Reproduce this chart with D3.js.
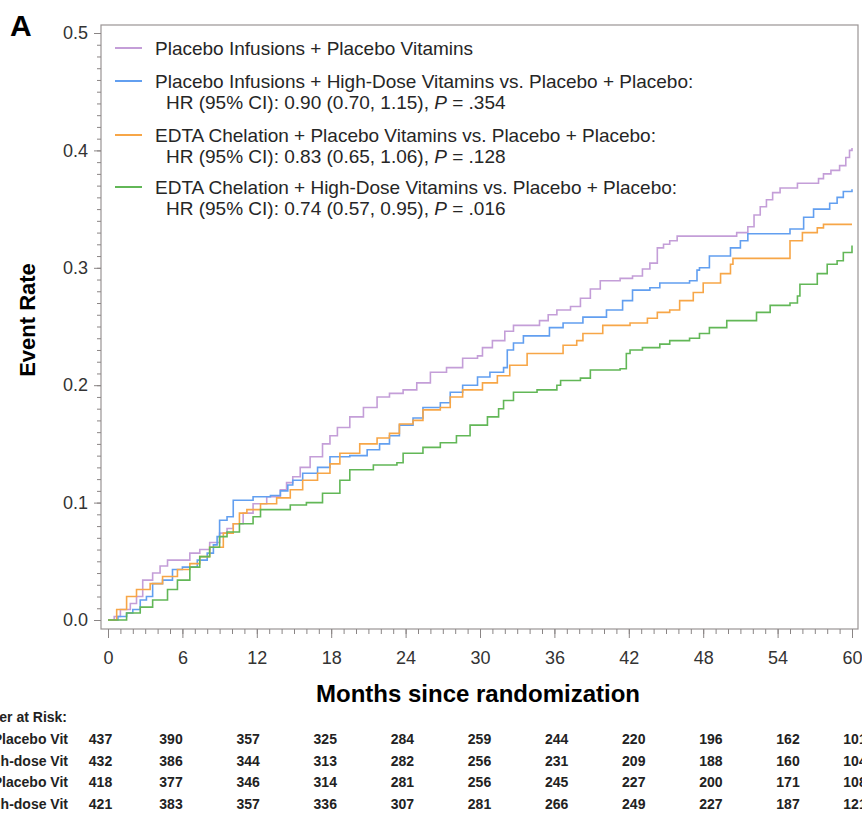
<!DOCTYPE html>
<html>
<head>
<meta charset="utf-8">
<script src="https://cdn.jsdelivr.net/npm/d3@7"></script>
<style>
  body { margin: 0; background: #fff; }
  svg { display: block; font-family: "Liberation Sans", Arial, sans-serif; }
  .tick text { fill: #333; }
</style>
</head>
<body>
<svg id="chart" width="862" height="816"></svg>
<script>
// ---- data ----
const xTicks = [0, 6, 12, 18, 24, 30, 36, 42, 48, 54, 60];
const yTicks = [0, 0.1, 0.2, 0.3, 0.4, 0.5];

const groupNames = [
    "Placebo Infusions + Placebo Vitamins",
    "Placebo Infusions + High-Dose Vitamins vs. Placebo + Placebo:",
    "EDTA Chelation + Placebo Vitamins vs. Placebo + Placebo:",
    "EDTA Chelation + High-Dose Vitamins vs. Placebo + Placebo:"
];
const hrText = [null, "HR (95% CI): 0.90 (0.70, 1.15), ", "HR (95% CI): 0.83 (0.65, 1.06), ", "HR (95% CI): 0.74 (0.57, 0.95), "];
const pValues = [null, ".354", ".128", ".016"];

// [month, event rate]
const placeboPlacebo = [[0,0],[0.5,0.003],[1,0.009],[1.8,0.014],[2.3,0.02],[2.8,0.034],[3.6,0.04],[4.2,0.046],[4.8,0.051],[6.6,0.057],[7.4,0.06],[8.2,0.066],[9,0.074],[9.6,0.078],[10.1,0.082],[10.9,0.091],[11.7,0.099],[12.8,0.105],[13.9,0.111],[14.4,0.117],[14.9,0.122],[15.5,0.13],[16.3,0.139],[17.3,0.15],[17.9,0.157],[18.5,0.164],[19.5,0.173],[20.6,0.181],[21.7,0.19],[22.7,0.193],[23.8,0.196],[24.9,0.202],[26,0.211],[27.3,0.215],[28.6,0.223],[29.8,0.225],[30.2,0.232],[31,0.238],[32,0.246],[32.7,0.251],[34.8,0.255],[35.5,0.26],[36.2,0.264],[37.3,0.267],[38.1,0.274],[38.9,0.282],[39.7,0.289],[41.3,0.291],[42.3,0.293],[43.1,0.299],[43.7,0.304],[44.3,0.317],[44.8,0.32],[45.3,0.323],[45.9,0.327],[50.7,0.33],[51.6,0.335],[52.1,0.345],[52.6,0.352],[53.1,0.358],[53.6,0.364],[54.2,0.368],[55.6,0.372],[57.3,0.376],[57.7,0.38],[58.3,0.383],[59,0.387],[59.5,0.394],[59.8,0.4],[60,0.402]];
const placeboHighDose = [[0,0],[0.8,0.003],[1.5,0.006],[2,0.009],[2.6,0.017],[3.1,0.02],[3.6,0.031],[4.4,0.034],[5.2,0.043],[6,0.045],[7.2,0.051],[8,0.057],[8.5,0.064],[8.8,0.071],[9,0.085],[9.6,0.088],[10.1,0.102],[11.7,0.105],[13.1,0.106],[13.9,0.11],[14.5,0.115],[14.9,0.119],[15.7,0.125],[16.9,0.13],[17.9,0.139],[19.5,0.14],[20.9,0.145],[21.9,0.15],[22.7,0.157],[23.5,0.166],[24.6,0.172],[25.4,0.181],[26.8,0.185],[27.6,0.194],[28.6,0.2],[29.8,0.207],[30.8,0.211],[31.9,0.215],[32.2,0.23],[32.7,0.236],[33.5,0.242],[35.6,0.249],[36.7,0.253],[38.3,0.258],[40.2,0.264],[41.5,0.272],[42.3,0.281],[43.7,0.283],[44.5,0.287],[46.9,0.289],[47.5,0.298],[47.7,0.3],[48.5,0.31],[50.2,0.317],[51,0.323],[51.6,0.329],[55,0.333],[56.1,0.343],[56.9,0.35],[58.2,0.355],[58.8,0.36],[59.3,0.365],[60,0.367]];
const edtaPlacebo = [[0,0],[0.7,0.009],[1.5,0.02],[2.3,0.026],[3.4,0.031],[4.4,0.037],[5.6,0.043],[6.6,0.048],[7.4,0.054],[8.2,0.062],[9.3,0.074],[10.1,0.082],[10.6,0.091],[11.2,0.094],[12.3,0.099],[13.6,0.104],[14.7,0.111],[15.7,0.119],[16.9,0.125],[17.9,0.133],[18.7,0.142],[20.3,0.15],[21.7,0.155],[22.7,0.159],[23.5,0.167],[24.6,0.17],[25.4,0.179],[26.8,0.181],[27.6,0.19],[28.6,0.196],[30.2,0.202],[31.4,0.208],[32.4,0.217],[33.8,0.227],[36.7,0.234],[37.8,0.238],[38.3,0.244],[39.9,0.251],[42.1,0.253],[43.5,0.257],[44.3,0.262],[45.3,0.264],[46.1,0.272],[47.2,0.279],[48,0.287],[49.4,0.295],[50.2,0.303],[50.4,0.308],[55,0.323],[56,0.33],[57.2,0.334],[57.7,0.337],[60,0.337]];
const edtaHighDose = [[0,0],[1.5,0.006],[2.6,0.011],[3.6,0.017],[4.8,0.026],[5.6,0.034],[6.6,0.045],[7.4,0.054],[8.2,0.062],[9,0.071],[9.6,0.075],[10.6,0.082],[11.7,0.088],[12.3,0.094],[14.7,0.098],[16,0.1],[17.3,0.108],[18.7,0.119],[19.5,0.128],[21.4,0.132],[23.3,0.134],[23.8,0.142],[25.4,0.147],[26.8,0.151],[28.1,0.157],[29.2,0.166],[30.6,0.173],[31.5,0.18],[31.9,0.187],[32.7,0.194],[34.6,0.196],[36.2,0.2],[36.5,0.204],[38.1,0.206],[38.9,0.213],[41.3,0.214],[41.8,0.227],[42.1,0.23],[43.1,0.232],[44.5,0.235],[45.3,0.238],[46.9,0.24],[47.7,0.244],[48.5,0.249],[49.9,0.255],[52.3,0.262],[53.4,0.268],[55,0.27],[55.6,0.276],[55.8,0.286],[57.2,0.295],[58,0.303],[58.8,0.306],[59.3,0.313],[60,0.319]];

const riskLabels = ["Placebo Inf + Placebo Vit", "Placebo Inf + High-dose Vit", "EDTA + Placebo Vit", "EDTA + High-dose Vit"];
const riskPlaceboPlacebo = [437, 390, 357, 325, 284, 259, 244, 220, 196, 162, 101];
const riskPlaceboHighDose = [432, 386, 344, 313, 282, 256, 231, 209, 188, 160, 104];
const riskEdtaPlacebo = [418, 377, 346, 314, 281, 256, 245, 227, 200, 171, 108];
const riskEdtaHighDose = [421, 383, 357, 336, 307, 281, 266, 249, 227, 187, 121];

const colors = ["#c49ed8", "#629ff0", "#f7a647", "#62b757"];

const curves = [placeboPlacebo, placeboHighDose, edtaPlacebo, edtaHighDose];
const riskRows = [riskPlaceboPlacebo, riskPlaceboHighDose, riskEdtaPlacebo, riskEdtaHighDose];

// ---- layout ----
const frame = { left: 101, right: 858, top: 25, bottom: 629 };
const svg = d3.select("#chart");

const x = d3.scaleLinear().domain([0, 60]).range([108, 852]);
const y = d3.scaleLinear().domain([0, 0.5]).range([620, 33]);

// frame
svg.append("rect")
    .attr("x", frame.left).attr("y", frame.top)
    .attr("width", frame.right - frame.left)
    .attr("height", frame.bottom - frame.top)
    .attr("fill", "none")
    .attr("stroke", "#9a9494")
    .attr("stroke-width", 1.2);

// x axis, minor then major
svg.append("g")
    .attr("transform", `translate(0,${frame.bottom})`)
    .call(d3.axisBottom(x).tickValues(d3.range(0, 61)).tickSize(5).tickFormat(""))
    .call(g => g.select(".domain").remove())
    .call(g => g.selectAll("line").attr("stroke", "#8a8585"));

svg.append("g")
    .attr("transform", `translate(0,${frame.bottom})`)
    .call(d3.axisBottom(x).tickValues(xTicks).tickSize(9).tickPadding(13).tickFormat(d3.format("d")))
    .call(g => g.select(".domain").remove())
    .call(g => g.selectAll("line").attr("stroke", "#8a8585"))
    .call(g => g.selectAll("text").attr("font-size", 18));

// y axis
svg.append("g")
    .attr("transform", `translate(${frame.left},0)`)
    .call(d3.axisLeft(y).tickValues(d3.range(0, 0.501, 0.01)).tickSize(4).tickFormat(""))
    .call(g => g.select(".domain").remove())
    .call(g => g.selectAll("line").attr("stroke", "#8a8585"));

svg.append("g")
    .attr("transform", `translate(${frame.left},0)`)
    .call(d3.axisLeft(y).tickValues(yTicks).tickSize(7).tickPadding(6).tickFormat(d3.format(".1f")))
    .call(g => g.select(".domain").remove())
    .call(g => g.selectAll("line").attr("stroke", "#8a8585"))
    .call(g => g.selectAll("text").attr("font-size", 18));

// axis titles and panel letter
svg.append("text")
    .attr("transform", "translate(35,320) rotate(-90)")
    .attr("text-anchor", "middle")
    .attr("font-size", 22).attr("font-weight", "bold")
    .text("Event Rate");

svg.append("text")
    .attr("x", 478).attr("y", 702)
    .attr("text-anchor", "middle")
    .attr("font-size", 24).attr("font-weight", "bold")
    .text("Months since randomization");

svg.append("text")
    .attr("x", 10).attr("y", 36)
    .attr("font-size", 30).attr("font-weight", "bold")
    .text("A");

// curves
const line = d3.line()
    .x(d => x(d[0]))
    .y(d => y(d[1]))
    .curve(d3.curveStepAfter);

svg.append("g")
    .selectAll("path")
    .data(curves)
    .join("path")
    .attr("d", line)
    .attr("fill", "none")
    .attr("stroke", (d, i) => colors[i])
    .attr("stroke-width", 1.6);

// legend
const legendBaselines = [55, 88, 142, 194];
const legend = svg.append("g").attr("font-size", 19).attr("fill", "#262626");

groupNames.forEach((name, i) => {
    const by = legendBaselines[i];
    legend.append("line")
        .attr("x1", 115).attr("x2", 142)
        .attr("y1", by - 7).attr("y2", by - 7)
        .attr("stroke", colors[i]).attr("stroke-width", 2);
    legend.append("text").attr("x", 155).attr("y", by).text(name);
    if (hrText[i]) {
        const t = legend.append("text").attr("x", 166).attr("y", by + 21);
        t.append("tspan").text(hrText[i]);
        t.append("tspan").attr("font-style", "italic").text("P");
        t.append("tspan").text(" = " + pValues[i]);
    }
});

// number at risk table
const tx = d3.scaleLinear().domain([0, 6, 54, 60]).range([100.5, 171, 788, 855]);
const rowY = d3.scalePoint().domain(d3.range(4)).range([744, 809]);
const table = svg.append("g").attr("font-size", 14).attr("font-weight", "bold").attr("fill", "#222");

table.append("text")
    .attr("x", 67).attr("y", 722)
    .attr("text-anchor", "end")
    .text("Number at Risk:");

riskRows.forEach((row, i) => {
    table.append("text")
        .attr("x", 68).attr("y", rowY(i))
        .attr("text-anchor", "end")
        .text(riskLabels[i]);
    table.append("g")
        .selectAll("text")
        .data(row)
        .join("text")
        .attr("x", (d, j) => tx(xTicks[j]))
        .attr("y", rowY(i))
        .attr("text-anchor", "middle")
        .text(d => d);
});
</script>
</body>
</html>
